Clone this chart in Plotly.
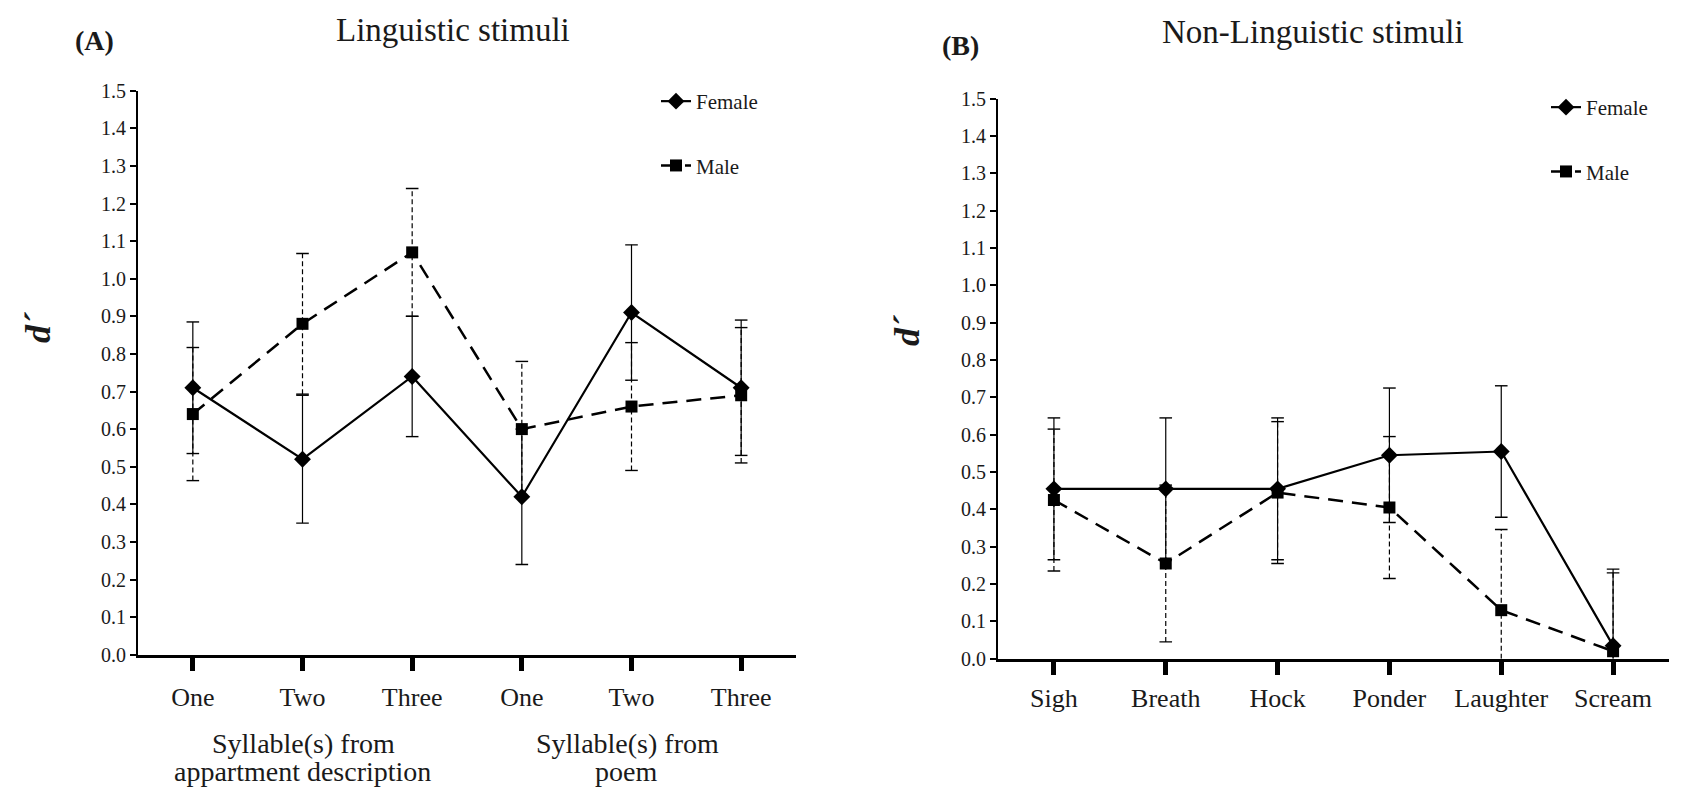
import plotly.graph_objects as go

W, H = 1686, 789
OFF = 8  # page body margin of the browser
FW, FH = W - OFF, H - OFF

# ---------------- data ----------------
cats_A = ["One", "Two", "Three", "One", "Two", "Three"]
female_A = [0.71, 0.52, 0.74, 0.42, 0.91, 0.71]
female_A_err = [0.175, 0.17, 0.16, 0.18, 0.18, 0.18]
male_A = [0.64, 0.88, 1.07, 0.60, 0.66, 0.69]
male_A_err = [0.177, 0.187, 0.17, 0.18, 0.17, 0.18]

cats_B = ["Sigh", "Breath", "Hock", "Ponder", "Laughter", "Scream"]
female_B = [0.455, 0.455, 0.455, 0.545, 0.555, 0.035]
female_B_err = [0.19, 0.19, 0.19, 0.18, 0.176, 0.205]
male_B = [0.425, 0.255, 0.445, 0.405, 0.13, 0.02]
male_B_err = [0.19, 0.21, 0.19, 0.19, 0.216, 0.21]

y_ticks = [i / 10 for i in range(16)]

FONT = "Liberation Serif"
TXT = "#1a1a1a"


def px(x):
    return (x - OFF) / FW


def py(y):
    return 1 - (y - OFF) / FH


def err_segments(vals, errs):
    xs, ys = [], []
    for i, (v, e) in enumerate(zip(vals, errs)):
        xs += [i, i, None]
        ys += [v - e, v + e, None]
    return xs, ys


fig = go.Figure()


def add_panel(xa, ya, legend, f_vals, f_err, m_vals, m_err):
    # male error bars (dashed)
    ex, ey = err_segments(m_vals, m_err)
    fig.add_trace(go.Scatter(
        x=ex, y=ey, mode="lines+markers", xaxis=xa, yaxis=ya, showlegend=False,
        line=dict(color="black", width=1.2, dash="5px,3px"),
        marker=dict(symbol="line-ew", size=9, line=dict(color="black", width=1.4)),
        hoverinfo="skip"))
    # female error bars (solid)
    ex, ey = err_segments(f_vals, f_err)
    fig.add_trace(go.Scatter(
        x=ex, y=ey, mode="lines+markers", xaxis=xa, yaxis=ya, showlegend=False,
        line=dict(color="black", width=1.2),
        marker=dict(symbol="line-ew", size=9, line=dict(color="black", width=1.4)),
        hoverinfo="skip"))
    xs = list(range(len(f_vals)))
    fig.add_trace(go.Scatter(
        x=xs, y=m_vals, mode="lines+markers", name="Male", xaxis=xa, yaxis=ya,
        legend=legend, legendgroup="m" + legend, legendrank=2, cliponaxis=False,
        line=dict(color="black", width=2.5, dash="15px,9px"),
        marker=dict(symbol="square", size=12, color="black")))
    fig.add_trace(go.Scatter(
        x=xs, y=f_vals, mode="lines+markers", name="Female", xaxis=xa, yaxis=ya,
        legend=legend, legendgroup="f" + legend, legendrank=1, cliponaxis=False,
        line=dict(color="black", width=2.2),
        marker=dict(symbol="diamond", size=13, color="black")))


add_panel("x", "y", "legend", female_A, female_A_err, male_A, male_A_err)
add_panel("x2", "y2", "legend2", female_B, female_B_err, male_B, male_B_err)


def xaxis_cfg(domain, labels, anchor, standoff):
    return dict(domain=domain, range=[-0.5, len(labels) - 0.5],
                tickvals=list(range(len(labels))), ticktext=labels,
                ticks="outside", ticklen=14, tickwidth=5, tickcolor="black",
                showline=True, linewidth=2.5, linecolor="black",
                showgrid=False, zeroline=False, anchor=anchor,
                automargin=False, ticklabelstandoff=standoff,
                tickfont=dict(family=FONT, size=26, color=TXT))


def yaxis_cfg(domain, anchor):
    return dict(domain=domain, range=[0, 1.5], tickvals=y_ticks,
                tickformat=".1f", ticks="outside", ticklen=6, tickwidth=1.5,
                tickcolor="black", showline=True, linewidth=2, linecolor="black",
                showgrid=False, zeroline=False, anchor=anchor, automargin=False,
                tickfont=dict(family=FONT, size=20, color=TXT))


annotations = []


def ann(text, x, y, size, bold=False, italic=False, angle=0):
    t = text
    if italic:
        t = "<i>" + t + "</i>"
    if bold:
        t = "<b>" + t + "</b>"
    annotations.append(dict(text=t, x=px(x), y=py(y), xref="paper", yref="paper",
                            xanchor="center", yanchor="middle", showarrow=False,
                            textangle=angle,
                            font=dict(family=FONT, size=size, color=TXT)))


ann("Linguistic stimuli", 453, 30, 33)
ann("Non-Linguistic stimuli", 1313, 32, 33)
ann("(A)", 94, 40, 28, bold=True)
ann("(B)", 960, 46, 28, bold=True)
ann("d´", 38, 327, 36, bold=True, italic=True, angle=-90)
ann("d´", 907, 330, 36, bold=True, italic=True, angle=-90)
ann("Syllable(s) from", 303, 743, 28)
ann("appartment description", 302, 771, 28)
ann("Syllable(s) from", 627, 743, 28)
ann("poem", 626, 771, 28)

legend_style = dict(xanchor="left", yanchor="top", bgcolor="rgba(0,0,0,0)",
                    font=dict(family=FONT, size=21, color=TXT),
                    tracegroupgap=34, itemclick=False,
                    traceorder="grouped")

fig.update_layout(
    width=FW, height=FH,
    margin=dict(l=0, r=0, t=0, b=0, pad=0, autoexpand=False),
    paper_bgcolor="white", plot_bgcolor="white",
    xaxis=xaxis_cfg([px(138), px(796)], cats_A, "y", 3),
    yaxis=yaxis_cfg([py(654.7), py(90.7)], "x"),
    xaxis2=xaxis_cfg([px(998), px(1669)], cats_B, "y2", 0),
    yaxis2=yaxis_cfg([py(658.7), py(98.7)], "x2"),
    legend=dict(x=px(656), y=py(81), **legend_style),
    legend2=dict(x=px(1546), y=py(87), **legend_style),
    annotations=annotations,
    showlegend=True,
)

fig.write_html("out.html")
